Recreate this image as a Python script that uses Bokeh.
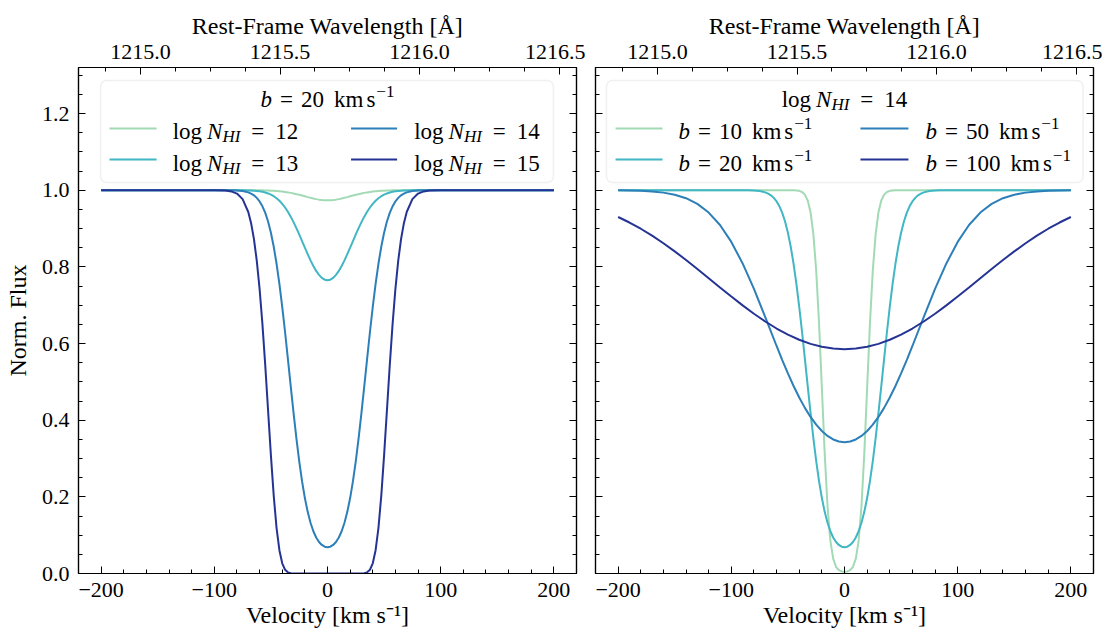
from bokeh.plotting import figure
from bokeh.layouts import row
from bokeh.models import (Range1d, LinearAxis, FixedTicker, PrintfTickFormatter,
                          CustomJSTickFormatter, Label, BoxAnnotation)
from bokeh.embed import file_html
from bokeh.resources import INLINE

# ---------------- data ----------------
V_LEFT = [-200, -150, -120, -100, -90, -85, -80, -75, -70, -67.5, -65, -62.5, -60, -57.5, -55,
          -52.5, -50, -47.5, -45, -42.5, -40, -37.5, -35, -32.5, -30, -27.5, -25, -22.5, -20,
          -17.5, -15, -12.5, -10, -7.5, -5, -2.5, 0,
          2.5, 5, 7.5, 10, 12.5, 15, 17.5, 20, 22.5, 25, 27.5, 30, 32.5, 35, 37.5, 40, 42.5, 45,
          47.5, 50, 52.5, 55, 57.5, 60, 62.5, 65, 67.5, 70, 75, 80, 85, 90, 100, 120, 150, 200]

F_LOGN12 = [1.0, 1.0, 1.0, 1.0, 1.0, 1.0, 1.0, 1.0, 0.9999, 0.9999, 0.9999, 0.9998, 0.9997, 0.9996,
            0.9994, 0.9991, 0.9988, 0.9984, 0.9979, 0.9972, 0.9964, 0.9954, 0.9942, 0.9929, 0.9913,
            0.9896, 0.9878, 0.9859, 0.9839, 0.9819, 0.9800, 0.9782, 0.9766, 0.9753, 0.9744, 0.9738,
            0.9736,
            0.9738, 0.9744, 0.9753, 0.9766, 0.9782, 0.9800, 0.9819, 0.9839, 0.9859, 0.9878, 0.9896,
            0.9913, 0.9929, 0.9942, 0.9954, 0.9964, 0.9972, 0.9979, 0.9984, 0.9988, 0.9991, 0.9994,
            0.9996, 0.9997, 0.9998, 0.9999, 0.9999, 0.9999, 1.0, 1.0, 1.0, 1.0, 1.0, 1.0, 1.0, 1.0]

F_LOGN13 = [1.0, 1.0, 1.0, 1.0, 1.0, 1.0, 0.9999, 0.9998, 0.9994, 0.9991, 0.9986, 0.9980, 0.9970,
            0.9957, 0.9939, 0.9915, 0.9883, 0.9842, 0.9789, 0.9724, 0.9644, 0.9548, 0.9437, 0.9309,
            0.9167, 0.9011, 0.8845, 0.8673, 0.8500, 0.8330, 0.8169, 0.8022, 0.7894, 0.7790, 0.7712,
            0.7665, 0.7649,
            0.7665, 0.7712, 0.7790, 0.7894, 0.8022, 0.8169, 0.8330, 0.8500, 0.8673, 0.8845, 0.9011,
            0.9167, 0.9309, 0.9437, 0.9548, 0.9644, 0.9724, 0.9789, 0.9842, 0.9883, 0.9915, 0.9939,
            0.9957, 0.9970, 0.9980, 0.9986, 0.9991, 0.9994, 0.9998, 0.9999, 1.0, 1.0, 1.0, 1.0,
            1.0, 1.0]

F_LOGN14 = [1.0, 1.0, 1.0, 1.0, 0.9999, 0.9997, 0.9991, 0.9976, 0.9942, 0.9910, 0.9865, 0.9799,
            0.9707, 0.9579, 0.9408, 0.9181, 0.8889, 0.8524, 0.8080, 0.7556, 0.6958, 0.6300, 0.5601,
            0.4889, 0.4189, 0.3530, 0.2932, 0.2409, 0.1968, 0.1608, 0.1323, 0.1103, 0.0939, 0.0823,
            0.0745, 0.0700, 0.0686,
            0.0700, 0.0745, 0.0823, 0.0939, 0.1103, 0.1323, 0.1608, 0.1968, 0.2409, 0.2932, 0.3530,
            0.4189, 0.4889, 0.5601, 0.6300, 0.6958, 0.7556, 0.8080, 0.8524, 0.8889, 0.9181, 0.9408,
            0.9579, 0.9707, 0.9799, 0.9865, 0.9910, 0.9942, 0.9976, 0.9991, 0.9997, 0.9999, 1.0,
            1.0, 1.0, 1.0]

F_LOGN15 = [1.0, 1.0, 1.0, 0.9999, 0.9989, 0.9968, 0.9911, 0.9766, 0.9431, 0.9139, 0.8726, 0.8163,
            0.7425, 0.6506, 0.5429, 0.4253, 0.3080, 0.2025, 0.1185, 0.0607, 0.0266, 0.0098, 0.0030,
            0.0008, 0.0002, 0.0, 0.0, 0.0, 0.0, 0.0, 0.0, 0.0, 0.0, 0.0, 0.0, 0.0, 0.0,
            0.0, 0.0, 0.0, 0.0, 0.0, 0.0, 0.0, 0.0, 0.0, 0.0, 0.0, 0.0002, 0.0008, 0.0030, 0.0098,
            0.0266, 0.0607, 0.1185, 0.2025, 0.3080, 0.4253, 0.5429, 0.6506, 0.7425, 0.8163, 0.8726,
            0.9139, 0.9431, 0.9766, 0.9911, 0.9968, 0.9989, 0.9999, 1.0, 1.0, 1.0]

V_B10 = [-200, -100, -60, -50, -45, -40, -37.5, -35, -32.5, -30, -27.5, -25, -22.5, -20, -17.5, -15,
         -12.5, -10, -7.5, -5, -2.5, 0, 2.5, 5, 7.5, 10, 12.5, 15, 17.5, 20, 22.5, 25, 27.5, 30,
         32.5, 35, 37.5, 40, 45, 50, 60, 100, 200]
F_B10 = [1.0, 1.0, 1.0, 1.0, 0.9998, 0.9982, 0.9953, 0.9884, 0.9731, 0.9422, 0.8850, 0.7902, 0.6528,
         0.4841, 0.3137, 0.1755, 0.0860, 0.0387, 0.0175, 0.0088, 0.0055, 0.0047, 0.0055, 0.0088,
         0.0175, 0.0387, 0.0860, 0.1755, 0.3137, 0.4841, 0.6528, 0.7902, 0.8850, 0.9422, 0.9731,
         0.9884, 0.9953, 0.9982, 0.9998, 1.0, 1.0, 1.0, 1.0]

V_B20 = V_LEFT
F_B20 = F_LOGN14   # same profile: log N = 14, b = 20

V_B50 = [-200, -190, -180, -170, -160, -150, -140, -130, -120, -110, -100, -90, -80, -70, -60, -55,
         -50, -45, -40, -35, -30, -25, -20, -15, -10, -5, 0, 5, 10, 15, 20, 25, 30, 35, 40, 45,
         50, 55, 60, 70, 80, 90, 100, 110, 120, 130, 140, 150, 160, 170, 180, 190, 200]
F_B50 = [0.9996, 0.9992, 0.9984, 0.9967, 0.9936, 0.9882, 0.9790, 0.9642, 0.9416, 0.9091, 0.8650,
         0.8088, 0.7423, 0.6688, 0.5935, 0.5569, 0.5219, 0.4892, 0.4591, 0.4321, 0.4084, 0.3883,
         0.3717, 0.3589, 0.3497, 0.3442, 0.3423,
         0.3442, 0.3497, 0.3589, 0.3717, 0.3883, 0.4084, 0.4321, 0.4591, 0.4892, 0.5219, 0.5569,
         0.5935, 0.6688, 0.7423, 0.8088, 0.8650, 0.9091, 0.9416, 0.9642, 0.9790, 0.9882, 0.9936,
         0.9967, 0.9984, 0.9992, 0.9996]

V_B100 = [-200, -190, -180, -170, -160, -150, -140, -130, -120, -110, -100, -90, -80, -70, -60,
          -50, -40, -30, -20, -10, 0, 10, 20, 30, 40, 50, 60, 70, 80, 90, 100, 110, 120, 130,
          140, 150, 160, 170, 180, 190, 200]
F_B100 = [0.9300, 0.9156, 0.8994, 0.8813, 0.8615, 0.8403, 0.8178, 0.7943, 0.7704, 0.7463, 0.7225,
          0.6994, 0.6776, 0.6574, 0.6391, 0.6231, 0.6097, 0.5990, 0.5913, 0.5867, 0.5851,
          0.5867, 0.5913, 0.5990, 0.6097, 0.6231, 0.6391, 0.6574, 0.6776, 0.6994, 0.7225, 0.7463,
          0.7704, 0.7943, 0.8178, 0.8403, 0.8615, 0.8813, 0.8994, 0.9156, 0.9300]

LOGN_VALUES = [12, 13, 14, 15]
B_VALUES = [10, 20, 50, 100]
COLORS = ["#a1dab4", "#41b6c4", "#2c7fb8", "#253494"]

V_TICKS = [-200, -100, 0, 100, 200]
V_LABELS = {-200: "\u2212200", -100: "\u2212100", 0: "0", 100: "100", 200: "200"}
V_MINOR = list(range(-200, 201, 20))
Y_TICKS = [0.0, 0.2, 0.4, 0.6, 0.8, 1.0, 1.2]
Y_MINOR = [round(0.05 * i, 2) for i in range(0, 27)]
WL_TICKS = [1215.0, 1215.5, 1216.0, 1216.5]
WL_MINOR = [1214.875 + 0.125 * i for i in range(0, 14)]

LAMBDA0 = 1215.67
C_KMS = 299792.458

# ---------------- style ----------------
FONT = "Liberation Serif"
FS = 22
FS_AX = 24
FL = 23        # legend text
SUB = 17       # legend sub/superscripts
XR = (-220, 220)
YR = (0, 1.32)
H = 630
TOP, BOTTOM = 67, 57
PX_Y = (H - TOP - BOTTOM) / (YR[1] - YR[0])

W_ROMAN = {' ': 250, '=': 564, 'l': 278, 'o': 500, 'g': 500, 'k': 500, 'm': 778, 's': 389,
           '\u2212': 564}
W_ITAL = {'N': 667, 'H': 722, 'I': 333, 'b': 500}


def tw(s, size, italic):
    tab = W_ITAL if italic else W_ROMAN
    return sum(tab.get(ch, 500) for ch in s) * size / 1000.0


def rich(p, x, y, pieces, center=False):
    pos, cur = [], 0.0
    for text, it, size, dy, gap in pieces:
        cur += gap
        pos.append(cur)
        cur += tw(text, size, it)
    shift = -cur / 2 if center else 0.0
    for (text, it, size, dy, gap), off in zip(pieces, pos):
        p.add_layout(Label(x=x, y=y + dy / PX_Y, x_offset=off + shift, text=text,
                           text_font=FONT, text_font_size=f"{size}px",
                           text_font_style="italic" if it else "normal",
                           text_color="black", text_baseline="alphabetic", text_align="left"))


def logn_pieces(n):
    return [("log", False, FL, 0, 0), ("N", True, FL, 0, 5), ("HI", True, SUB, -5, 0),
            ("=", False, FL, 0, 11), (str(n), False, FL, 0, 11)]


def b_pieces(b):
    return [("b", True, FL, 0, 0), ("=", False, FL, 0, 8), (str(b), False, FL, 0, 8),
            ("km", False, FL, 0, 10), ("s", False, FL, 0, 3), ("\u22121", False, SUB, 8, 1)]


def style_axis(ax, labels=True):
    ax.major_tick_in = 7
    ax.major_tick_out = 0
    ax.minor_tick_in = 4
    ax.minor_tick_out = 0
    ax.major_tick_line_color = "black"
    ax.minor_tick_line_color = "black"
    ax.major_tick_line_width = 1
    ax.minor_tick_line_width = 1
    ax.axis_line_color = "black"
    ax.axis_line_width = 1.2
    ax.major_label_text_font = FONT
    ax.major_label_text_font_size = f"{FS}px" if labels else "0px"
    ax.major_label_text_color = "black"
    ax.axis_label_text_font = FONT
    ax.axis_label_text_font_size = f"{FS_AX}px"
    ax.axis_label_text_font_style = "normal"
    ax.axis_label_text_color = "black"
    if not labels:
        ax.formatter = CustomJSTickFormatter(code="return ''")
        ax.major_label_standoff = 0


def make_panel(width, bl, br, ylabels):
    p = figure(width=width, height=H, x_range=Range1d(*XR), y_range=Range1d(*YR),
               output_backend="svg", toolbar_location=None,
               x_axis_location=None, y_axis_location=None,
               min_border_left=bl, min_border_right=br,
               min_border_top=TOP, min_border_bottom=BOTTOM)
    p.xgrid.visible = False
    p.ygrid.visible = False
    p.outline_line_color = "black"
    p.outline_line_width = 1.2
    p.background_fill_color = "white"
    p.border_fill_color = "white"

    p.extra_x_ranges = {"wl": Range1d(LAMBDA0 * (1 + XR[0] / C_KMS), LAMBDA0 * (1 + XR[1] / C_KMS))}

    bottom = LinearAxis(ticker=FixedTicker(ticks=V_TICKS, minor_ticks=V_MINOR),
                        major_label_overrides=V_LABELS, axis_label="Velocity [km s\u207b\u00b9]")
    style_axis(bottom)
    bottom.major_label_standoff = 9
    bottom.axis_label_standoff = 2
    p.add_layout(bottom, "below")

    top = LinearAxis(x_range_name="wl", ticker=FixedTicker(ticks=WL_TICKS, minor_ticks=WL_MINOR),
                     formatter=PrintfTickFormatter(format="%.1f"),
                     axis_label="Rest-Frame Wavelength [\u00c5]")
    style_axis(top)
    top.major_label_standoff = 9
    top.axis_label_standoff = 3
    p.add_layout(top, "above")

    left = LinearAxis(ticker=FixedTicker(ticks=Y_TICKS, minor_ticks=Y_MINOR))
    style_axis(left, labels=ylabels)
    if ylabels:
        left.formatter = PrintfTickFormatter(format="%.1f")
        left.axis_label = "Norm. Flux"
        left.major_label_standoff = 9
        left.axis_label_standoff = 8
    p.add_layout(left, "left")

    right = LinearAxis(ticker=FixedTicker(ticks=Y_TICKS, minor_ticks=Y_MINOR))
    style_axis(right, labels=False)
    p.add_layout(right, "right")
    return p


def legend(p, box, title_pieces, entries, cols):
    p.add_layout(BoxAnnotation(left=box[0], right=box[1], bottom=1.0201, top=1.2862,
                               fill_color="white", fill_alpha=0.85, line_color="#cccccc",
                               line_width=1.5, border_radius=6))
    rich(p, 0.0, 1.2367, title_pieces, center=True)
    ys_line = [1.1610, 1.0801]
    ys_text = [1.1532, 1.0697]
    x0s, x1s, y0s = [], [], []
    for i, pieces in enumerate(entries):
        c, r = i // 2, i % 2
        x0s.append(cols[c][0])
        x1s.append(cols[c][1])
        y0s.append(ys_line[r])
        rich(p, cols[c][2], ys_text[r], pieces)
    seg = p.segment(x0=x0s, y0=y0s, x1=x1s, y1=y0s, line_color=COLORS, line_width=2)
    seg.level = "overlay"


# ---------------- left panel ----------------
p1 = make_panel(585, 78, 9, True)
for v, f, c in zip([V_LEFT] * 4, [F_LOGN12, F_LOGN13, F_LOGN14, F_LOGN15], COLORS):
    p1.line(v, f, line_color=c, line_width=2)
legend(p1, (-200.5, 199.6), b_pieces(20), [logn_pieces(n) for n in LOGN_VALUES],
       [(-192.6, -151.0, -136.8), (20.8, 61.5, 76.6)])

# ---------------- right panel ----------------
p2 = make_panel(517, 10, 9, False)
for v, f, c in zip([V_B10, V_B20, V_B50, V_B100], [F_B10, F_B20, F_B50, F_B100], COLORS):
    p2.line(v, f, line_color=c, line_width=2)
legend(p2, (-210.3, 210.8), logn_pieces(14), [b_pieces(b) for b in B_VALUES],
       [(-202.3, -160.8, -146.7), (14.1, 56.5, 71.6)])

layout = row(p1, p2)
open("out.html", "w").write(file_html(layout, INLINE))
